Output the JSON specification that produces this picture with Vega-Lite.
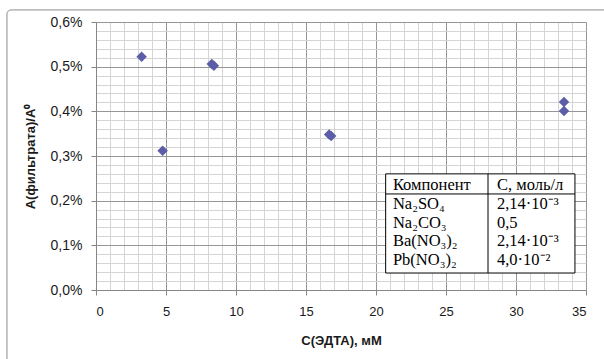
{
  "$schema": "https://vega.github.io/schema/vega-lite/v6.json",
  "width": 490,
  "height": 268,
  "autosize": {"type": "none"},
  "padding": {"left": 96, "top": 22, "right": 18, "bottom": 69},
  "background": "white",
  "config": {
    "view": {"stroke": null},
    "locale": {"number": {"decimal": ",", "thousands": " ", "grouping": [3], "currency": ["", " ₽"]}},
    "axis": {
      "labelFont": "Liberation Sans",
      "labelFontSize": 13,
      "labelColor": "#1a1a1a",
      "titleFont": "Liberation Sans",
      "titleFontSize": 13,
      "titleFontWeight": "bold",
      "titleColor": "#1a1a1a",
      "domainColor": "#868686",
      "tickColor": "#868686",
      "tickSize": 5
    }
  },
  "datasets": {
    "points": [
      {"edta": 3.26, "ratio": 0.00522},
      {"edta": 4.76, "ratio": 0.00312},
      {"edta": 8.27, "ratio": 0.00506},
      {"edta": 8.42, "ratio": 0.00502},
      {"edta": 16.65, "ratio": 0.00348},
      {"edta": 16.8, "ratio": 0.00345},
      {"edta": 33.43, "ratio": 0.00421},
      {"edta": 33.43, "ratio": 0.00401}
    ],
    "table": [
      {"row": 0, "component": "Компонент", "conc": "С, моль/л"},
      {"row": 1, "component": "Na₂SO₄", "conc": "2,14·10⁻³"},
      {"row": 2, "component": "Na₂CO₃", "conc": "0,5"},
      {"row": 3, "component": "Ba(NO₃)₂", "conc": "2,14·10⁻³"},
      {"row": 4, "component": "Pb(NO₃)₂", "conc": "4,0·10⁻²"}
    ]
  },
  "layer": [
    {
      "layer": [
        {
          "data": {"name": "points"},
          "mark": {"type": "point", "shape": "diamond", "filled": true, "size": 110, "color": "#5b5ea6", "opacity": 1},
          "encoding": {
            "x": {
              "field": "edta", "type": "quantitative",
              "scale": {"domain": [0, 35], "nice": false, "zero": false},
              "axis": {
                "title": "С(ЭДТА), мМ",
                "values": [0,1,2,3,4,5,6,7,8,9,10,11,12,13,14,15,16,17,18,19,20,21,22,23,24,25,26,27,28,29,30,31,32,33,34,35],
                "grid": true,
                "gridColor": {"condition": {"test": "datum.value % 5 === 0", "value": "#969696"}, "value": "#d4d4d4"},
                "tickOpacity": {"condition": {"test": "datum.value % 5 === 0", "value": 1}, "value": 0},
                "labelExpr": "datum.value % 5 === 0 ? datum.label : ''",
                "labelPadding": 10,
                "titlePadding": 16
              }
            },
            "y": {
              "field": "ratio", "type": "quantitative",
              "scale": {"domain": [0, 0.006], "nice": false},
              "axis": {
                "title": "А(фильтрата)/А⁰",
                "format": ".1%",
                "values": [0,0.0002,0.0004,0.0006,0.0008,0.001,0.0012,0.0014,0.0016,0.0018,0.002,0.0022,0.0024,0.0026,0.0028,0.003,0.0032,0.0034,0.0036,0.0038,0.004,0.0042,0.0044,0.0046,0.0048,0.005,0.0052,0.0054,0.0056,0.0058,0.006],
                "grid": true,
                "gridColor": {"condition": {"test": "round(datum.value * 10000) % 10 === 0", "value": "#969696"}, "value": "#d4d4d4"},
                "tickOpacity": {"condition": {"test": "round(datum.value * 10000) % 10 === 0", "value": 1}, "value": 0},
                "labelExpr": "round(datum.value * 10000) % 10 === 0 ? datum.label : ''",
                "labelFontSize": 14,
                "labelPadding": 9,
                "titleX": -59,
                "titleBaseline": "bottom"
              }
            }
          }
        },
        {
          "data": {"values": [{}]},
          "mark": {"type": "rect", "fill": null, "stroke": "#8c8c8c", "strokeWidth": 1, "cornerRadius": 4},
          "encoding": {
            "x": {"datum": -6.36, "type": "quantitative", "axis": null},
            "x2": {"datum": 40},
            "y": {"datum": 0.00627, "type": "quantitative", "axis": null},
            "y2": {"datum": -0.002}
          }
        },
        {
          "data": {"values": [{}]},
          "mark": {"type": "rect", "fill": "white", "stroke": "#000000", "strokeWidth": 1},
          "encoding": {
            "x": {"datum": 20.69, "type": "quantitative", "axis": null},
            "x2": {"datum": 34.21},
            "y": {"datum": 0.0026, "type": "quantitative", "axis": null},
            "y2": {"datum": 0.00038}
          }
        },
        {
          "data": {"values": [{}]},
          "mark": {"type": "rule", "color": "#000000", "strokeWidth": 1},
          "encoding": {
            "x": {"datum": 28.0, "type": "quantitative", "axis": null},
            "y": {"datum": 0.0026, "type": "quantitative", "axis": null},
            "y2": {"datum": 0.00038}
          }
        },
        {
          "data": {"values": [{}]},
          "mark": {"type": "rule", "color": "#000000", "strokeWidth": 1},
          "encoding": {
            "x": {"datum": 20.69, "type": "quantitative", "axis": null},
            "x2": {"datum": 34.21},
            "y": {"datum": 0.00215, "type": "quantitative", "axis": null}
          }
        }
      ],
      "resolve": {"axis": {"x": "independent", "y": "independent"}}
    },
    {
      "data": {"name": "table"},
      "layer": [
        {
          "mark": {"type": "text", "align": "left", "baseline": "middle", "font": "Liberation Serif", "fontSize": 16.5, "color": "#000000"},
          "encoding": {
            "x": {"datum": 21.21, "type": "quantitative", "axis": null},
            "y": {"field": "row", "type": "quantitative", "scale": {"domain": [-8.67, 5.585], "reverse": true, "nice": false, "zero": false}, "axis": null},
            "text": {"field": "component"}
          }
        },
        {
          "mark": {"type": "text", "align": "left", "baseline": "middle", "font": "Liberation Serif", "fontSize": 16.5, "color": "#000000"},
          "encoding": {
            "x": {"datum": 28.64, "type": "quantitative", "axis": null},
            "y": {"field": "row", "type": "quantitative", "scale": {"domain": [-8.67, 5.585], "reverse": true, "nice": false, "zero": false}, "axis": null},
            "text": {"field": "conc"}
          }
        }
      ],
      "resolve": {"axis": {"x": "independent", "y": "independent"}}
    }
  ],
  "resolve": {"scale": {"y": "independent"}, "axis": {"x": "independent", "y": "independent"}}
}
